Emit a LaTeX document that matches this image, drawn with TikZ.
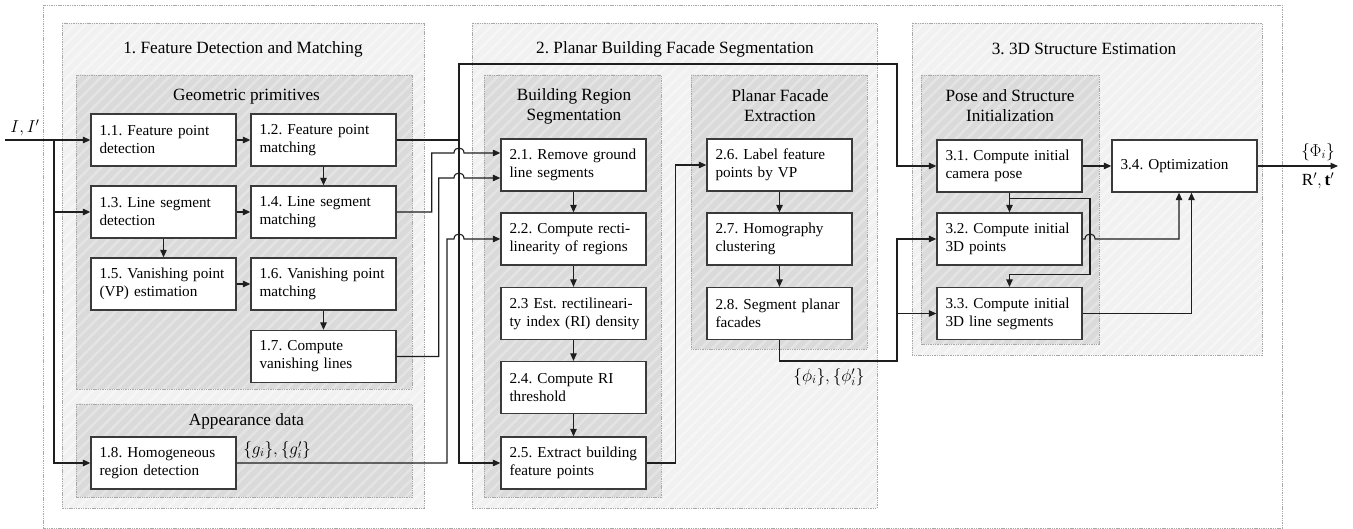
\documentclass[tikz,border=0pt]{standalone}
\usepackage{fontspec}
\setmainfont{Liberation Serif}
\usetikzlibrary{arrows.meta,patterns.meta,calc}
\definecolor{secgray}{HTML}{F1F1F1}
\definecolor{secstripe}{HTML}{F6F6F6}
\definecolor{subgray}{HTML}{DADADA}
\definecolor{substripe}{HTML}{E4E4E4}
\definecolor{dashgray}{HTML}{A8A8A8}
\definecolor{boxline}{HTML}{3A3A3A}
\definecolor{conn}{HTML}{1E1E1E}
\frenchspacing
\hyphenpenalty=10000
\exhyphenpenalty=10000
\tikzset{
  dashedframe/.style={draw=dashgray, line width=0.8pt, dash pattern=on 1.4pt off 0.9pt},
  section/.style={dashedframe, preaction={fill=secgray},
    preaction={pattern={Lines[angle=45,distance=8pt,line width=2.5pt]}, pattern color=secstripe}},
  subsec/.style={dashedframe, preaction={fill=subgray},
    preaction={pattern={Lines[angle=45,distance=8pt,line width=2.5pt]}, pattern color=substripe}},
  proc/.style={draw=boxline, line width=1.3pt, fill=white, minimum width=145pt, minimum height=52pt,
    text width=128pt, inner xsep=8.5pt, inner ysep=2pt, align=left,
    font=\fontsize{15.2}{18}\selectfont\frenchspacing},
  ttl/.style={font=\fontsize{17.2}{20}\selectfont\frenchspacing, align=center},
  lbl/.style={font=\fontsize{17}{20}\selectfont},
  wire/.style={draw=conn, line width=1.1pt},
  arr/.style={wire, -{Triangle[length=7.5pt,width=6.5pt]}},
}
\begin{document}
\begin{tikzpicture}[x=1pt,y=-1pt]
\useasboundingbox (0,0) rectangle (1353,529);
% frames
\draw[dashedframe] (43,5) rectangle (1282,528);
\path[section] (62,23) rectangle (424,508);
\path[section] (472,23) rectangle (877,508);
\path[section] (912,23) rectangle (1262,355);
\path[subsec] (76,75) rectangle (412,389);
\path[subsec] (76,404) rectangle (412,497);
\path[subsec] (484,75) rectangle (661,497);
\path[subsec] (691,75) rectangle (867,349);
\path[subsec] (921,75) rectangle (1099,344);
% titles
\node[ttl] (t1) at (243,49) {1. Feature Detection and Matching};
\node[ttl] (t2) at (675,49) {2. Planar Building Facade Segmentation};
\node[ttl] (t3) at (1084,49) {3. 3D Structure Estimation};
\node[ttl] (s1) at (246.5,97) {Geometric primitives};
\node[ttl] (s2) at (246.5,421) {Appearance data};
\node[ttl] (s3) at (574,106) {Building Region\\Segmentation};
\node[ttl] (s4) at (780,106) {Planar Facade\\Extraction};
\node[ttl] (s5) at (1010,106) {Pose and Structure\\Initialization};
% process boxes
\node[proc] (b11) at (163.5,140) {\mbox{1.1. Feature point}\\detection};
\node[proc] (b12) at (323.5,140) {\mbox{1.2. Feature point}\\matching};
\node[proc] (b13) at (163.5,212) {\mbox{1.3. Line segment}\\detection};
\node[proc] (b14) at (323.5,212) {\mbox{1.4. Line segment}\\matching};
\node[proc] (b15) at (163.5,284) {\mbox{1.5. Vanishing point}\\(VP) estimation};
\node[proc] (b16) at (323.5,284) {\mbox{1.6. Vanishing point}\\matching};
\node[proc] (b17) at (323.5,356.5) {1.7. Compute\\vanishing lines};
\node[proc] (b18) at (163.5,463) {\mbox{1.8. Homogeneous}\\region detection};
\node[proc] (b21) at (573.5,165) {\mbox{2.1. Remove ground}\\line segments};
\node[proc] (b22) at (573.5,239) {\mbox{2.2. Compute recti-}\\\mbox{linearity of regions}};
\node[proc] (b23) at (573.5,313.5) {\mbox{2.3 Est. rectilineari-}\\\mbox{ty index (RI) density}};
\node[proc] (b24) at (573.5,387.5) {2.4. Compute RI\\threshold};
\node[proc] (b25) at (573.5,463) {\mbox{2.5. Extract building}\\feature points};
\node[proc] (b26) at (779.5,165) {\mbox{2.6. Label feature}\\points by VP};
\node[proc] (b27) at (779.5,239) {2.7. Homography\\clustering};
\node[proc] (b28) at (779.5,313.5) {\mbox{2.8. Segment planar}\\facades};
\node[proc] (b31) at (1009.5,166) {\mbox{3.1. Compute initial}\\camera pose};
\node[proc] (b32) at (1009.5,239) {\mbox{3.2. Compute initial}\\3D points};
\node[proc] (b33) at (1009.5,313.5) {\mbox{3.3. Compute initial}\\\mbox{3D line segments}};
\node[proc] (b34) at (1184.5,166) {3.4. Optimization};
% labels
\node[lbl] (lin) at (25,128) {$I,I'$};
\node[lbl] (lg) at (277,450) {$\{g_i\},\{g_i'\}$};
\node[lbl] (lphi) at (829,377) {$\{\phi_i\},\{\phi_i'\}$};
\node[lbl] (lPhi) at (1318,152) {$\{\Phi_i\}$};
\node[lbl] (lRt) at (1318,181) {$\mathrm{R}',\mathbf{t}'$};
% coordinates
\coordinate (in) at (5,140);
\coordinate (jin) at (54,140);
\coordinate (cA) at (459,140);
\coordinate (tA) at (459,64);
\coordinate (tB) at (897,64);
\coordinate (out) at (1338,166);
\coordinate (p1) at (897,361);
% section 1 internal
\draw[arr] (in) -- (b11.west);
\draw[arr] (jin) |- (b13.west);
\draw[arr] (jin) |- (b18.west);
\draw[arr] (b11) -- (b12);
\draw[arr] (b13) -- (b14);
\draw[arr] (b15) -- (b16);
\draw[arr] (b12) -- (b14);
\draw[arr] (b13) -- (b15);
\draw[arr] (b16) -- (b17);
% to section 2 / 3
\draw[wire] (b12.east) -- (cA);
\draw[arr] (cA) -- (tA) -- (tB) |- (b31.west);
\draw[arr] (cA) |- (b25.west);
\draw[arr] (b14.east) -| (431.7,153) -- (454,153) .. controls +(0,-6.7) and +(0,-6.7) .. (464,153) -- ($(b21.west)+(0,-12)$);
\draw[arr] (b17.east) -| (438.7,178) -- (454,178) .. controls +(0,-6.7) and +(0,-6.7) .. (464,178) -- ($(b21.west)+(0,13)$);
\draw[arr] (b18.east) -| (447,239) -- (454,239) .. controls +(0,-6.7) and +(0,-6.7) .. (464,239) -- (b22.west);
% section 2 internal
\draw[arr] (b21) -- (b22);
\draw[arr] (b22) -- (b23);
\draw[arr] (b23) -- (b24);
\draw[arr] (b24) -- (b25);
\draw[arr] (b26) -- (b27);
\draw[arr] (b27) -- (b28);
\draw[arr] (b25.east) -- ++(28.5,0) |- (b26.west);
\draw[arr] (b28.south) |- (p1) |- (b32.west);
\draw[arr] (p1 |- b33.west) -- (b33.west);
% section 3 internal
\draw[arr] (b31) -- (b34);
\draw[arr] (b31) -- (b32);
\draw[arr] (b31.south) -- ++(0,6) -| ($(b33.north)+(80.5,-12)$) -| (b33.north);
\draw[arr] (b32.east) -- (1085,239) .. controls +(0,-6.7) and +(0,-6.7) .. (1095,239) -| ($(b34.south)+(-5.5,0)$);
\draw[arr] (b33.east) -| ($(b34.south)+(7,0)$);
\draw[arr] (b34.east) -- (out);
\end{tikzpicture}
\end{document}
